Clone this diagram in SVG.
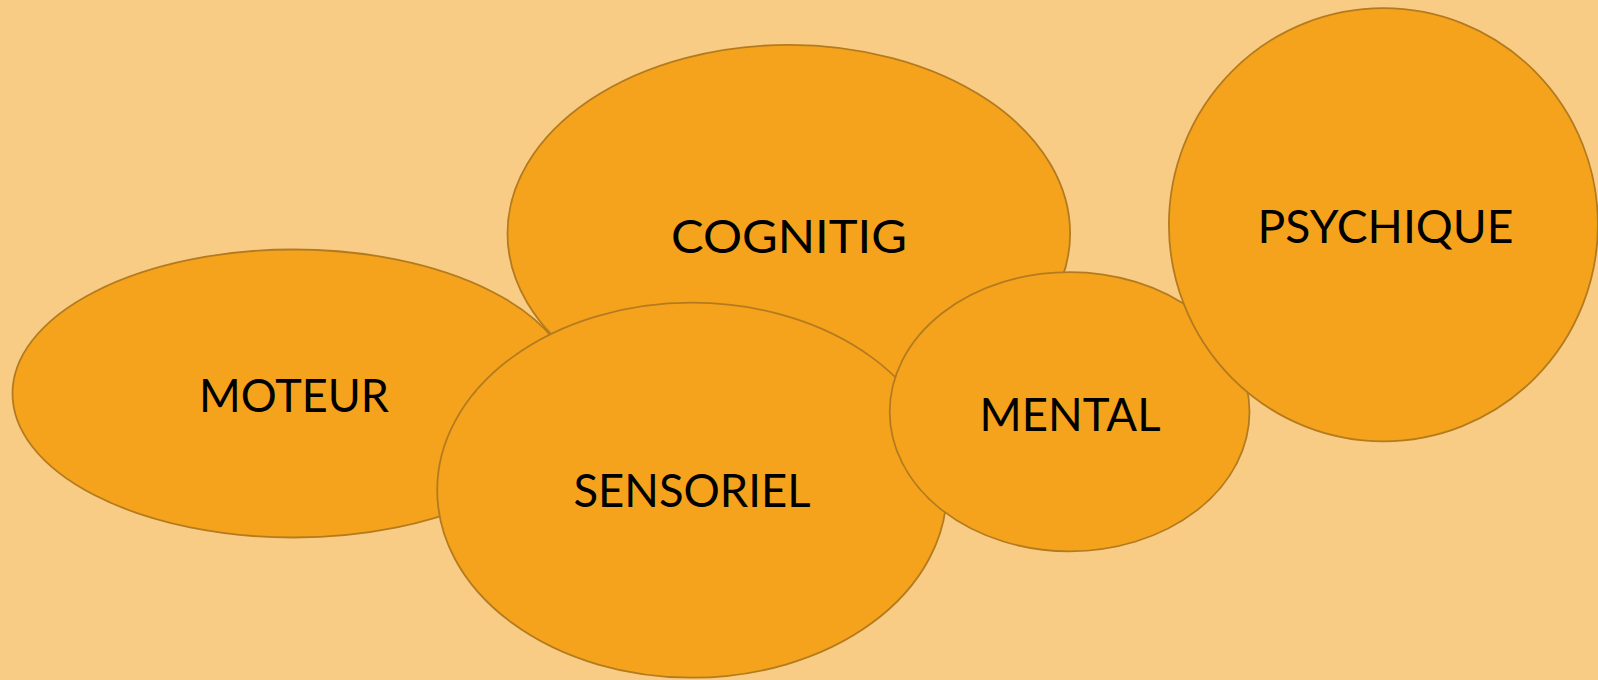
<svg xmlns="http://www.w3.org/2000/svg" width="1598" height="680" viewBox="0 0 1598 680">
  <style>
    .n { fill: #F5A31D; stroke: #B47B1E; stroke-width: 1.8; }
    .t { font-family: Lato, "Liberation Sans", sans-serif; font-size: 46px; fill: #000; text-anchor: middle; }
  </style>
  <rect x="0" y="0" width="1598" height="680" fill="#F9CC85"/>
  <g id="moteur">
    <ellipse class="n" cx="293.5" cy="393.5" rx="281" ry="144"/>
    <text class="t" x="294" y="411.7" textLength="190" lengthAdjust="spacingAndGlyphs">MOTEUR</text>
  </g>
  <g id="cognitig">
    <ellipse class="n" cx="788.8" cy="233.4" rx="281.3" ry="188.5"/>
    <text class="t" x="789" y="252.5" textLength="236" lengthAdjust="spacingAndGlyphs">COGNITIG</text>
  </g>
  <g id="sensoriel">
    <ellipse class="n" cx="692" cy="490.2" rx="254.8" ry="187.5"/>
    <text class="t" x="692" y="507" textLength="237" lengthAdjust="spacingAndGlyphs">SENSORIEL</text>
  </g>
  <g id="mental">
    <ellipse class="n" cx="1069.6" cy="411.7" rx="179.9" ry="139.6"/>
    <text class="t" x="1070" y="430.5" textLength="181" lengthAdjust="spacingAndGlyphs">MENTAL</text>
  </g>
  <g id="psychique">
    <ellipse class="n" cx="1383.4" cy="224.7" rx="214.5" ry="216.6"/>
    <text class="t" x="1385.5" y="242.7" textLength="256" lengthAdjust="spacingAndGlyphs">PSYCHIQUE</text>
  </g>
  <g id="connectors"/>
</svg>
